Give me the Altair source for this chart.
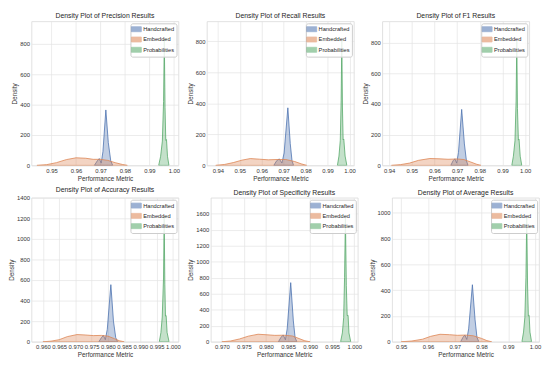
import altair as alt
import pandas as pd

SERIES = ["Handcrafted", "Embedded", "Probabilities"]
COLORS = ["#4C72B0", "#DD8452", "#55A868"]

# ---- Precision ----
PREC_HAND_X = [0.9675, 0.9687, 0.9695, 0.9703, 0.9710, 0.9722, 0.9732, 0.9742, 0.9750]
PREC_HAND_Y = [0, 30, 45, 15, 90, 365, 150, 30, 0]
PREC_EMB_X = [0.9440, 0.9480, 0.9520, 0.9560, 0.9600, 0.9640, 0.9670, 0.9700, 0.9730, 0.9760, 0.9790, 0.9810]
PREC_EMB_Y = [0, 5, 18, 38, 50, 47, 40, 40, 33, 18, 6, 0]
PREC_PROB_X = [0.9938, 0.9946, 0.9953, 0.9958, 0.9961, 0.9964, 0.9967, 0.9970, 0.9974, 0.9980]
PREC_PROB_Y = [0, 60, 160, 420, 830, 380, 165, 170, 60, 0]

# ---- Recall ----
REC_HAND_X = [0.9655, 0.9668, 0.9680, 0.9692, 0.9702, 0.9719, 0.9730, 0.9738, 0.9745]
REC_HAND_Y = [0, 30, 42, 15, 80, 371, 140, 30, 0]
REC_EMB_X = [0.9390, 0.9430, 0.9470, 0.9510, 0.9548, 0.9590, 0.9630, 0.9670, 0.9710, 0.9750, 0.9780, 0.9805]
REC_EMB_Y = [0, 6, 18, 34, 44, 40, 36, 38, 38, 25, 10, 0]
REC_PROB_X = [0.9945, 0.9952, 0.9958, 0.9962, 0.9965, 0.9968, 0.9971, 0.9974, 0.9980, 0.9988]
REC_PROB_Y = [0, 60, 160, 420, 805, 370, 165, 170, 60, 0]

# ---- F1 ----
F1_HAND_X = [0.9672, 0.9682, 0.9690, 0.9698, 0.9706, 0.9720, 0.9732, 0.9741, 0.9748]
F1_HAND_Y = [0, 30, 43, 15, 85, 365, 140, 30, 0]
F1_EMB_X = [0.9410, 0.9450, 0.9490, 0.9530, 0.9580, 0.9620, 0.9660, 0.9700, 0.9730, 0.9760, 0.9785, 0.9805]
F1_EMB_Y = [0, 5, 15, 33, 45, 43, 40, 42, 38, 22, 8, 0]
F1_PROB_X = [0.9941, 0.9948, 0.9955, 0.9960, 0.9963, 0.9966, 0.9970, 0.9973, 0.9978, 0.9985]
F1_PROB_Y = [0, 60, 160, 420, 810, 370, 165, 170, 60, 0]

# ---- Accuracy ----
ACC_HAND_X = [0.9772, 0.9780, 0.9786, 0.9792, 0.9798, 0.9809, 0.9817, 0.9824, 0.9830]
ACC_HAND_Y = [0, 40, 62, 20, 120, 555, 200, 40, 0]
ACC_EMB_X = [0.9600, 0.9625, 0.9650, 0.9675, 0.9705, 0.9730, 0.9755, 0.9780, 0.9800, 0.9820, 0.9835, 0.9850]
ACC_EMB_Y = [0, 6, 20, 50, 70, 66, 60, 62, 55, 30, 10, 0]
ACC_PROB_X = [0.9958, 0.9963, 0.9967, 0.9971, 0.9973, 0.9975, 0.9977, 0.9979, 0.9982, 0.9988]
ACC_PROB_Y = [0, 90, 240, 620, 1220, 560, 250, 255, 90, 0]

# ---- Specificity ----
SPEC_HAND_X = [0.9828, 0.9834, 0.9839, 0.9844, 0.9848, 0.9856, 0.9862, 0.9866, 0.9870]
SPEC_HAND_Y = [0, 55, 85, 25, 160, 738, 260, 50, 0]
SPEC_EMB_X = [0.9700, 0.9720, 0.9740, 0.9760, 0.9782, 0.9800, 0.9820, 0.9840, 0.9860, 0.9875, 0.9888, 0.9900]
SPEC_EMB_Y = [0, 10, 35, 70, 94, 88, 80, 82, 72, 40, 12, 0]
SPEC_PROB_X = [0.9969, 0.9973, 0.9976, 0.9978, 0.9980, 0.9982, 0.9984, 0.9986, 0.9988, 0.9992]
SPEC_PROB_Y = [0, 110, 300, 800, 1555, 700, 326, 330, 110, 0]

# ---- Average ----
AVG_HAND_X = [0.9722, 0.9731, 0.9738, 0.9745, 0.9752, 0.9766, 0.9776, 0.9783, 0.9790]
AVG_HAND_Y = [0, 35, 52, 18, 100, 442, 170, 35, 0]
AVG_EMB_X = [0.9500, 0.9540, 0.9580, 0.9610, 0.9645, 0.9680, 0.9710, 0.9740, 0.9770, 0.9800, 0.9820, 0.9838]
AVG_EMB_Y = [0, 6, 20, 42, 58, 55, 50, 52, 46, 26, 9, 0]
AVG_PROB_X = [0.9951, 0.9957, 0.9962, 0.9966, 0.9969, 0.9972, 0.9975, 0.9978, 0.9981, 0.9987]
AVG_PROB_Y = [0, 75, 190, 500, 965, 440, 200, 205, 75, 0]

TICKS_2 = [0.95, 0.96, 0.97, 0.98, 0.99, 1.00]
TICKS_2B = [0.94, 0.95, 0.96, 0.97, 0.98, 0.99, 1.00]
TICKS_ACC = [0.960, 0.965, 0.970, 0.975, 0.980, 0.985, 0.990, 0.995, 1.000]
TICKS_SPEC = [0.970, 0.975, 0.980, 0.985, 0.990, 0.995, 1.000]

W, H = 150, 147
RECT = "M-1.6,-0.8L1.6,-0.8L1.6,0.8L-1.6,0.8Z"


def panel(title, hx, hy, ex, ey, px, py, xdom, xticks, xfmt, ymax, yticks):
    rows = []
    for name, xs, ys in ((SERIES[0], hx, hy), (SERIES[1], ex, ey), (SERIES[2], px, py)):
        rows += [{"x": a, "density": b, "series": name} for a, b in zip(xs, ys)]
    df = pd.DataFrame(rows)
    leg = alt.Legend(
        title=None, orient="top-right", offset=2, fillColor="rgba(255,255,255,0.85)",
        strokeColor="#cccccc", cornerRadius=2, padding=2, labelFontSize=5.8,
        symbolType=RECT, symbolSize=40, symbolStrokeWidth=0.8, rowPadding=0.5,
        labelOffset=3, labelColor="#262626", symbolOpacity=0.55,
    )
    cscale = alt.Scale(domain=SERIES, range=COLORS)
    return (
        alt.Chart(df, title=alt.TitleParams(title, fontSize=7, fontWeight="normal", offset=2, color="#262626"))
        .mark_area(fillOpacity=0.35, strokeWidth=0.8, clip=True)
        .encode(
            x=alt.X("x:Q", scale=alt.Scale(domain=xdom, nice=False, zero=False),
                    axis=alt.Axis(values=xticks, format=xfmt, title="Performance Metric")),
            y=alt.Y("density:Q", stack=None, scale=alt.Scale(domain=[0, ymax], nice=False),
                    axis=alt.Axis(values=yticks, format="d", title="Density")),
            fill=alt.Fill("series:N", scale=cscale, legend=leg),
            stroke=alt.Stroke("series:N", scale=cscale, legend=leg),
        )
        .properties(width=W, height=H)
    )


p1 = panel("Density Plot of Precision Results", PREC_HAND_X, PREC_HAND_Y, PREC_EMB_X, PREC_EMB_Y,
           PREC_PROB_X, PREC_PROB_Y, [0.9418, 1.0019], TICKS_2, ".2f", 948, [0, 200, 400, 600, 800])
p2 = panel("Density Plot of Recall Results", REC_HAND_X, REC_HAND_Y, REC_EMB_X, REC_EMB_Y,
           REC_PROB_X, REC_PROB_Y, [0.935, 1.002], TICKS_2B, ".2f", 928, [0, 200, 400, 600, 800])
p3 = panel("Density Plot of F1 Results", F1_HAND_X, F1_HAND_Y, F1_EMB_X, F1_EMB_Y,
           F1_PROB_X, F1_PROB_Y, [0.937, 1.0018], TICKS_2B, ".2f", 939, [0, 200, 400, 600, 800])
p4 = panel("Density Plot of Accuracy Results", ACC_HAND_X, ACC_HAND_Y, ACC_EMB_X, ACC_EMB_Y,
           ACC_PROB_X, ACC_PROB_Y, [0.9565, 1.0017], TICKS_ACC, ".3f", 1400,
           [0, 200, 400, 600, 800, 1000, 1200, 1400])
p5 = panel("Density Plot of Specificity Results", SPEC_HAND_X, SPEC_HAND_Y, SPEC_EMB_X, SPEC_EMB_Y,
           SPEC_PROB_X, SPEC_PROB_Y, [0.9675, 1.0008], TICKS_SPEC, ".3f", 1798,
           [0, 200, 400, 600, 800, 1000, 1200, 1400, 1600])
p6 = panel("Density Plot of Average Results", AVG_HAND_X, AVG_HAND_Y, AVG_EMB_X, AVG_EMB_Y,
           AVG_PROB_X, AVG_PROB_Y, [0.9466, 1.0015], TICKS_2, ".2f", 1116,
           [0, 200, 400, 600, 800, 1000])

RES = dict(x="independent", y="independent", fill="independent", stroke="independent")

row1 = alt.hconcat(p1, p2, p3, spacing=6).resolve_scale(**RES).resolve_legend(fill="independent", stroke="independent")
row2 = alt.hconcat(p4, p5, p6, spacing=6).resolve_scale(**RES).resolve_legend(fill="independent", stroke="independent")

chart = (
    alt.vconcat(row1, row2, spacing=3)
    .resolve_scale(**RES)
    .resolve_legend(fill="independent", stroke="independent")
    .properties(padding=0, background="white")
    .configure_view(stroke="#d9d9d9", strokeWidth=0.8)
    .configure_axis(
        grid=True, gridColor="#e3e3e3", gridWidth=0.7, domain=False, ticks=False,
        labelFontSize=6, titleFontSize=6.5, labelColor="#333333", titleColor="#333333",
        titleFontWeight="normal", labelPadding=2, titlePadding=2,
        labelFont="Liberation Sans", titleFont="Liberation Sans",
    )
    .configure_legend(labelFont="Liberation Sans")
    .configure_title(font="Liberation Sans")
)

chart.save("out.html", embed_options={"renderer": "svg", "actions": False})
